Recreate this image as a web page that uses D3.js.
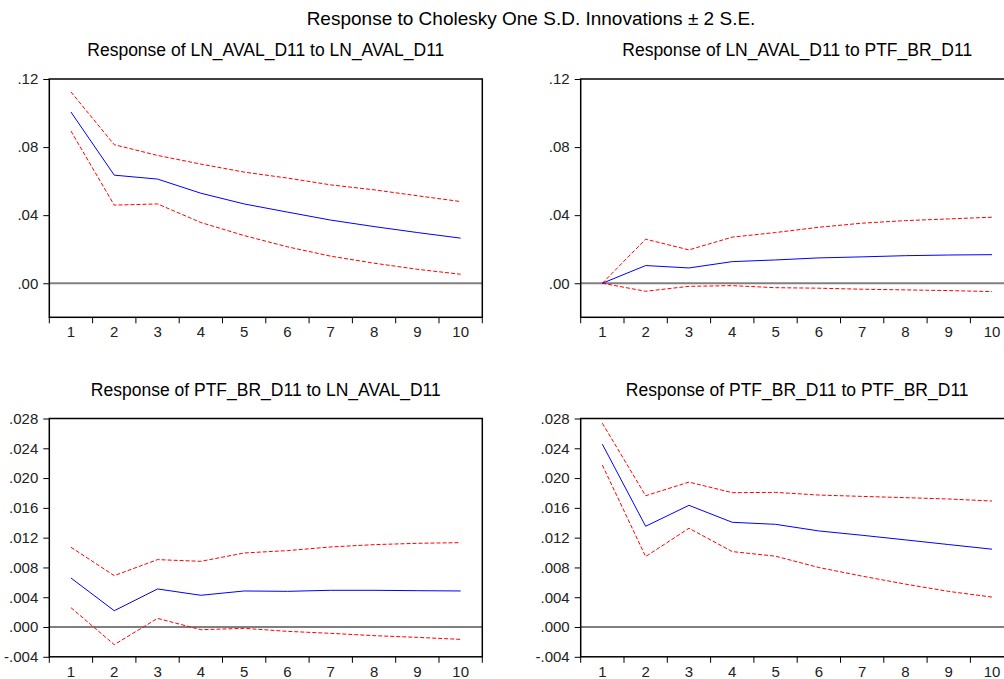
<!DOCTYPE html>
<html>
<head>
<meta charset="utf-8">
<script src="https://cdn.jsdelivr.net/npm/d3@7"></script>
<style>
  html, body { margin: 0; padding: 0; background: #fff; }
  svg { display: block; font-family: "Liberation Sans", Arial, sans-serif; }
</style>
</head>
<body>
<svg id="chart" width="1004" height="679"></svg>
<script>
const mainTitle = "Response to Cholesky One S.D. Innovations \u00b1 2 S.E.";
const periods = ["1","2","3","4","5","6","7","8","9","10"];

const titleAA = "Response of LN_AVAL_D11 to LN_AVAL_D11";
const respAA  = [0.1006, 0.0635, 0.0612, 0.0529, 0.0466, 0.0418, 0.0371, 0.0333, 0.0298, 0.0265];
const upperAA = [0.1124, 0.0814, 0.0751, 0.0700, 0.0653, 0.0618, 0.0578, 0.0549, 0.0514, 0.0480];
const lowerAA = [0.0894, 0.0459, 0.0466, 0.0357, 0.0280, 0.0214, 0.0159, 0.0118, 0.0082, 0.0053];

const titleAP = "Response of LN_AVAL_D11 to PTF_BR_D11";
const respAP  = [0.0000, 0.0104, 0.0090, 0.0127, 0.0137, 0.0149, 0.0155, 0.0162, 0.0166, 0.0168];
const upperAP = [0.0000, 0.0259, 0.0196, 0.0271, 0.0298, 0.0329, 0.0353, 0.0368, 0.0378, 0.0388];
const lowerAP = [0.0000, -0.0047, -0.0018, -0.0014, -0.0026, -0.0029, -0.0035, -0.0039, -0.0043, -0.0049];

const titlePA = "Response of PTF_BR_D11 to LN_AVAL_D11";
const respPA  = [0.00658, 0.00219, 0.00511, 0.00426, 0.00484, 0.00479, 0.00493, 0.00493, 0.00488, 0.00484];
const upperPA = [0.01071, 0.00690, 0.00905, 0.00882, 0.00994, 0.01026, 0.01075, 0.01106, 0.01124, 0.01133];
const lowerPA = [0.00260, -0.00237, 0.00116, -0.00036, -0.00018, -0.00058, -0.00085, -0.00116, -0.00139, -0.00166];

const titlePP = "Response of PTF_BR_D11 to PTF_BR_D11";
const respPP  = [0.02455, 0.01353, 0.01634, 0.01406, 0.01379, 0.01290, 0.01232, 0.01170, 0.01107, 0.01045];
const upperPP = [0.02737, 0.01763, 0.01946, 0.01804, 0.01808, 0.01772, 0.01754, 0.01737, 0.01719, 0.01692];
const lowerPP = [0.02174, 0.00946, 0.01326, 0.01013, 0.00951, 0.00799, 0.00683, 0.00576, 0.00478, 0.00402];

const ticksTop = [0.00, 0.04, 0.08, 0.12];
const tickLabelsTop = [".00", ".04", ".08", ".12"];
const domainTop = [-0.02, 0.12];
const ticksBottom = [-0.004, 0.000, 0.004, 0.008, 0.012, 0.016, 0.020, 0.024, 0.028];
const tickLabelsBottom = ["-.004", ".000", ".004", ".008", ".012", ".016", ".020", ".024", ".028"];
const domainBottom = [-0.004, 0.028];

const svg = d3.select("#chart");

svg.append("text")
  .attr("x", 531).attr("y", 25)
  .attr("text-anchor", "middle")
  .attr("font-size", 19)
  .attr("fill", "#000")
  .text(mainTitle);

const panels = [
  {title: titleAA, resp: respAA, up: upperAA, lo: lowerAA, x0: 49.3, y0: 79, ticks: ticksTop, labels: tickLabelsTop, domain: domainTop, zeroColor: "#808080", zeroW: 2},
  {title: titleAP, resp: respAP, up: upperAP, lo: lowerAP, x0: 580.7, y0: 79, ticks: ticksTop, labels: tickLabelsTop, domain: domainTop, zeroColor: "#808080", zeroW: 2},
  {title: titlePA, resp: respPA, up: upperPA, lo: lowerPA, x0: 49.3, y0: 418.5, ticks: ticksBottom, labels: tickLabelsBottom, domain: domainBottom, zeroColor: "#000", zeroW: 1.2},
  {title: titlePP, resp: respPP, up: upperPP, lo: lowerPP, x0: 580.7, y0: 418.5, ticks: ticksBottom, labels: tickLabelsBottom, domain: domainBottom, zeroColor: "#000", zeroW: 1.2}
];

const W = 433, H = 238.3;

panels.forEach(p => {
  const g = svg.append("g").attr("transform", `translate(${p.x0},${p.y0})`);
  const x = d3.scaleBand().domain(periods).range([0, W]);
  const y = d3.scaleLinear().domain(p.domain).range([H, 0]);
  const xc = (d, i) => x(periods[i]) + x.bandwidth() / 2;

  // title
  g.append("text")
    .attr("x", W / 2).attr("y", -23)
    .attr("text-anchor", "middle")
    .attr("font-size", 17.5)
    .attr("fill", "#000")
    .text(p.title);

  // y axis
  const yAxis = d3.axisLeft(y).tickValues(p.ticks)
    .tickFormat((d, i) => p.labels[i]).tickSize(6).tickSizeOuter(0);
  const ya = g.append("g").call(yAxis);
  ya.select(".domain").remove();
  ya.selectAll("line").attr("stroke", "#000");
  ya.selectAll("text").attr("font-size", 15).attr("fill", "#222").attr("x", -11)
    .attr("font-family", "'Liberation Sans', Arial, sans-serif");

  // x axis
  const xAxis = d3.axisBottom(x).tickSize(0).tickSizeOuter(0);
  const xa = g.append("g").attr("transform", `translate(0,${H})`).call(xAxis);
  xa.select(".domain").remove();
  xa.selectAll("text").attr("font-size", 15).attr("fill", "#222").attr("dy", "0")
    .attr("y", 20).attr("font-family", "'Liberation Sans', Arial, sans-serif");
  // boundary ticks
  const bounds = periods.map(d => x(d)).concat([W]);
  g.append("g").selectAll("line").data(bounds).join("line")
    .attr("x1", d => d).attr("x2", d => d)
    .attr("y1", H).attr("y2", H + 6)
    .attr("stroke", "#000").attr("stroke-width", 1);

  // zero line
  g.append("line")
    .attr("x1", 0).attr("x2", W)
    .attr("y1", y(0)).attr("y2", y(0))
    .attr("stroke", p.zeroColor).attr("stroke-width", p.zeroW);

  const line = d3.line().x(xc).y(d => y(d));

  g.append("path").datum(p.up).attr("d", line)
    .attr("fill", "none").attr("stroke", "#ff0000").attr("stroke-width", 1)
    .attr("stroke-dasharray", "4,2");
  g.append("path").datum(p.lo).attr("d", line)
    .attr("fill", "none").attr("stroke", "#ff0000").attr("stroke-width", 1)
    .attr("stroke-dasharray", "4,2");
  g.append("path").datum(p.resp).attr("d", line)
    .attr("fill", "none").attr("stroke", "#0000ff").attr("stroke-width", 1);

  // frame
  g.append("rect")
    .attr("x", 0).attr("y", 0).attr("width", W).attr("height", H)
    .attr("fill", "none").attr("stroke", "#000").attr("stroke-width", 1.5);
});
</script>
</body>
</html>
